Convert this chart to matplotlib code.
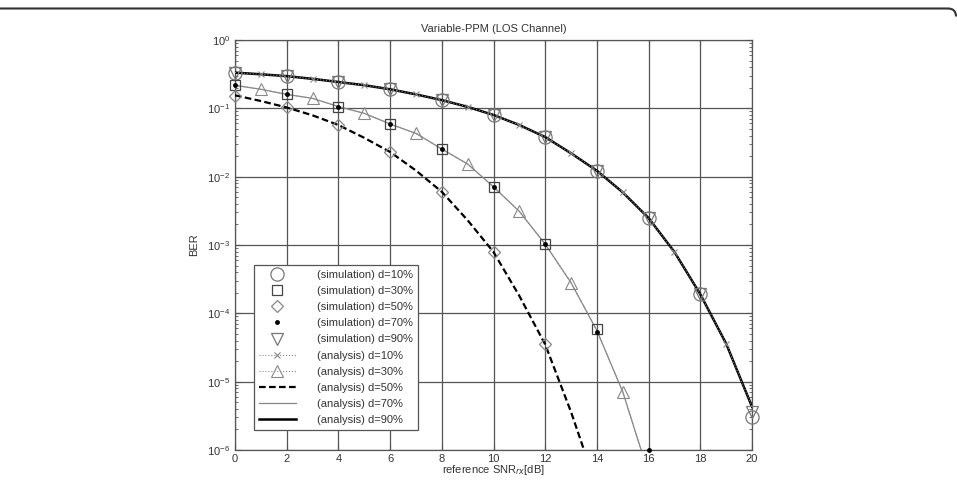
import matplotlib
matplotlib.use("Agg")
import matplotlib.pyplot as plt
from matplotlib.path import Path
from matplotlib.patches import PathPatch
from matplotlib.ticker import LogLocator, NullFormatter, FixedLocator
import numpy as np

plt.rcParams['font.family'] = ['Liberation Sans', 'DejaVu Sans']

# ---- data ----
snr_analysis = list(range(0, 21))
ana_10 = [0.333, 0.315, 0.296, 0.27, 0.243, 0.218, 0.19, 0.16, 0.132, 0.105, 0.080,
          0.057, 0.038, 0.022, 0.0122, 0.0059, 0.00248, 7.9e-4, 1.9e-4, 3.6e-5, 4.3e-6]
ana_90 = list(ana_10)
snr_ana_30 = list(range(0, 17))
ana_30 = [0.217, 0.19, 0.16, 0.14, 0.106, 0.0845, 0.059, 0.043, 0.0254, 0.0153, 0.0071,
          0.0031, 1.03e-3, 2.8e-4, 5.6e-5, 7.1e-6, 4.5e-7]
ana_70 = list(ana_30)
snr_ana_50 = list(range(0, 15))
ana_50 = [0.155, 0.128, 0.103, 0.079, 0.057, 0.037, 0.023, 0.0123, 0.006, 0.0023,
          7.9e-4, 1.8e-4, 3.5e-5, 3.6e-6, 2.8e-7]

snr_sim_10 = list(range(0, 21, 2))
sim_10 = [0.333, 0.296, 0.243, 0.19, 0.132, 0.080, 0.038, 0.0122, 0.00248, 1.9e-4, 3.0e-6]
sim_90 = [0.333, 0.296, 0.243, 0.19, 0.132, 0.080, 0.038, 0.0122, 0.00248, 1.9e-4, 3.6e-6]
snr_sim_30 = list(range(0, 15, 2))
sim_30 = [0.22, 0.16, 0.106, 0.059, 0.0254, 0.0071, 1.03e-3, 5.8e-5]
snr_sim_70 = list(range(0, 17, 2))
sim_70 = [0.217, 0.16, 0.106, 0.059, 0.0254, 0.0071, 1.03e-3, 5.3e-5, 1e-6]
snr_sim_50 = list(range(0, 13, 2))
sim_50 = [0.153, 0.103, 0.057, 0.023, 0.006, 7.9e-4, 3.5e-5]

x_ticks = list(range(0, 21, 2))
y_ticks = [1e-6, 1e-5, 1e-4, 1e-3, 1e-2, 1e-1, 1e0]

# ---- figure ----
fig = plt.figure(figsize=(9.57, 4.82), dpi=100)
ax = fig.add_axes([235/957, 1-450/482, (752-235)/957, (450-40)/482])

grey = '#888888'
txt = '#333333'

# analysis curves
h_a90, = ax.plot(snr_analysis, ana_90, '-', color='black', lw=1.8, zorder=3,
                 label='(analysis) d=90%')
h_a70, = ax.plot(snr_ana_30, ana_70, '-', color=grey, lw=0.9, zorder=3,
                 label='(analysis) d=70%')
h_a50, = ax.plot(snr_ana_50, ana_50, '--', color='black', lw=1.6, dashes=(3, 1.5), zorder=3,
                 label='(analysis) d=50%')
h_a10, = ax.plot(snr_analysis, ana_10, ':', color=grey, lw=0.8, marker='x', ms=5,
                 mew=0.8, markevery=slice(1, None, 2), zorder=4, label='(analysis) d=10%')
h_a30, = ax.plot(snr_ana_30, ana_30, ':', color=grey, lw=0.8, marker='^', ms=8,
                 mfc='none', mew=0.8, markevery=slice(1, None, 2), zorder=4,
                 label='(analysis) d=30%')

# simulation points
h_s10, = ax.plot(snr_sim_10, sim_10, 'o', ms=9.5, mfc='none', mec='#777777', mew=0.9,
                 zorder=5, clip_on=False, label='(simulation) d=10%')
h_s30, = ax.plot(snr_sim_30, sim_30, 's', ms=7, mfc='none', mec='#444444', mew=0.9,
                 zorder=5, clip_on=False, label='(simulation) d=30%')
h_s50, = ax.plot(snr_sim_50, sim_50, 'D', ms=6.5, mfc='none', mec='#888888', mew=0.9,
                 zorder=5, clip_on=False, label='(simulation) d=50%')
h_s70, = ax.plot(snr_sim_70, sim_70, '.', ms=5, color='black', zorder=6, clip_on=False,
                 label='(simulation) d=70%')
h_s90, = ax.plot(snr_sim_10, sim_90, 'v', ms=8, mfc='none', mec='#777777', mew=0.9,
                 zorder=5, clip_on=False, label='(simulation) d=90%')

ax.set_yscale('log')
ax.set_xlim(0, 20)
ax.set_ylim(1e-6, 1)
ax.set_xticks(x_ticks)
ax.set_yticks(y_ticks)
minor = [m * 10.0**e for e in range(-6, 0) for m in range(2, 10)]
ax.yaxis.set_minor_locator(FixedLocator(minor))
ax.yaxis.set_minor_formatter(NullFormatter())
ax.grid(True, which='major', color='#555555', lw=0.9)
ax.tick_params(which='both', direction='in', top=True, right=True, colors='#555555',
               labelcolor=txt, labelsize=8)
ax.tick_params(axis='x', pad=3)
ax.tick_params(which='major', length=4)
ax.tick_params(which='minor', length=2)
for s in ax.spines.values():
    s.set_color('#555555')
    s.set_linewidth(0.9)

ax.set_title('Variable-PPM (LOS Channel)', fontsize=8, color=txt, pad=6)
ax.set_xlabel('reference SNR$_{rx}$[dB]', fontsize=8, color=txt, labelpad=-1)
ax.set_ylabel('BER', fontsize=8, color=txt, labelpad=6)

handles = [h_s10, h_s30, h_s50, h_s70, h_s90, h_a10, h_a30, h_a50, h_a70, h_a90]
leg = ax.legend(handles=handles, loc='lower left', bbox_to_anchor=(19/517, 20/410),
                fontsize=8.0, frameon=True, fancybox=False, edgecolor='#555555',
                handlelength=3.3, labelspacing=0.55, handletextpad=1.9,
                borderpad=0.45, borderaxespad=0, framealpha=1)
leg.get_frame().set_linewidth(0.9)
for t in leg.get_texts():
    t.set_color(txt)

# top border with rounded right corner
W, H = 957, 482
verts = [(0, H-8.5), (948, H-8.5), (956, H-8.5), (956, H-16.5)]
codes = [Path.MOVETO, Path.LINETO, Path.CURVE3, Path.CURVE3]
verts = [(x/W, y/H) for x, y in verts]
fig.patches.append(PathPatch(Path(verts, codes), transform=fig.transFigure,
                             fill=False, edgecolor='#333333', lw=1.5))

fig.savefig('out.png', dpi=100)
